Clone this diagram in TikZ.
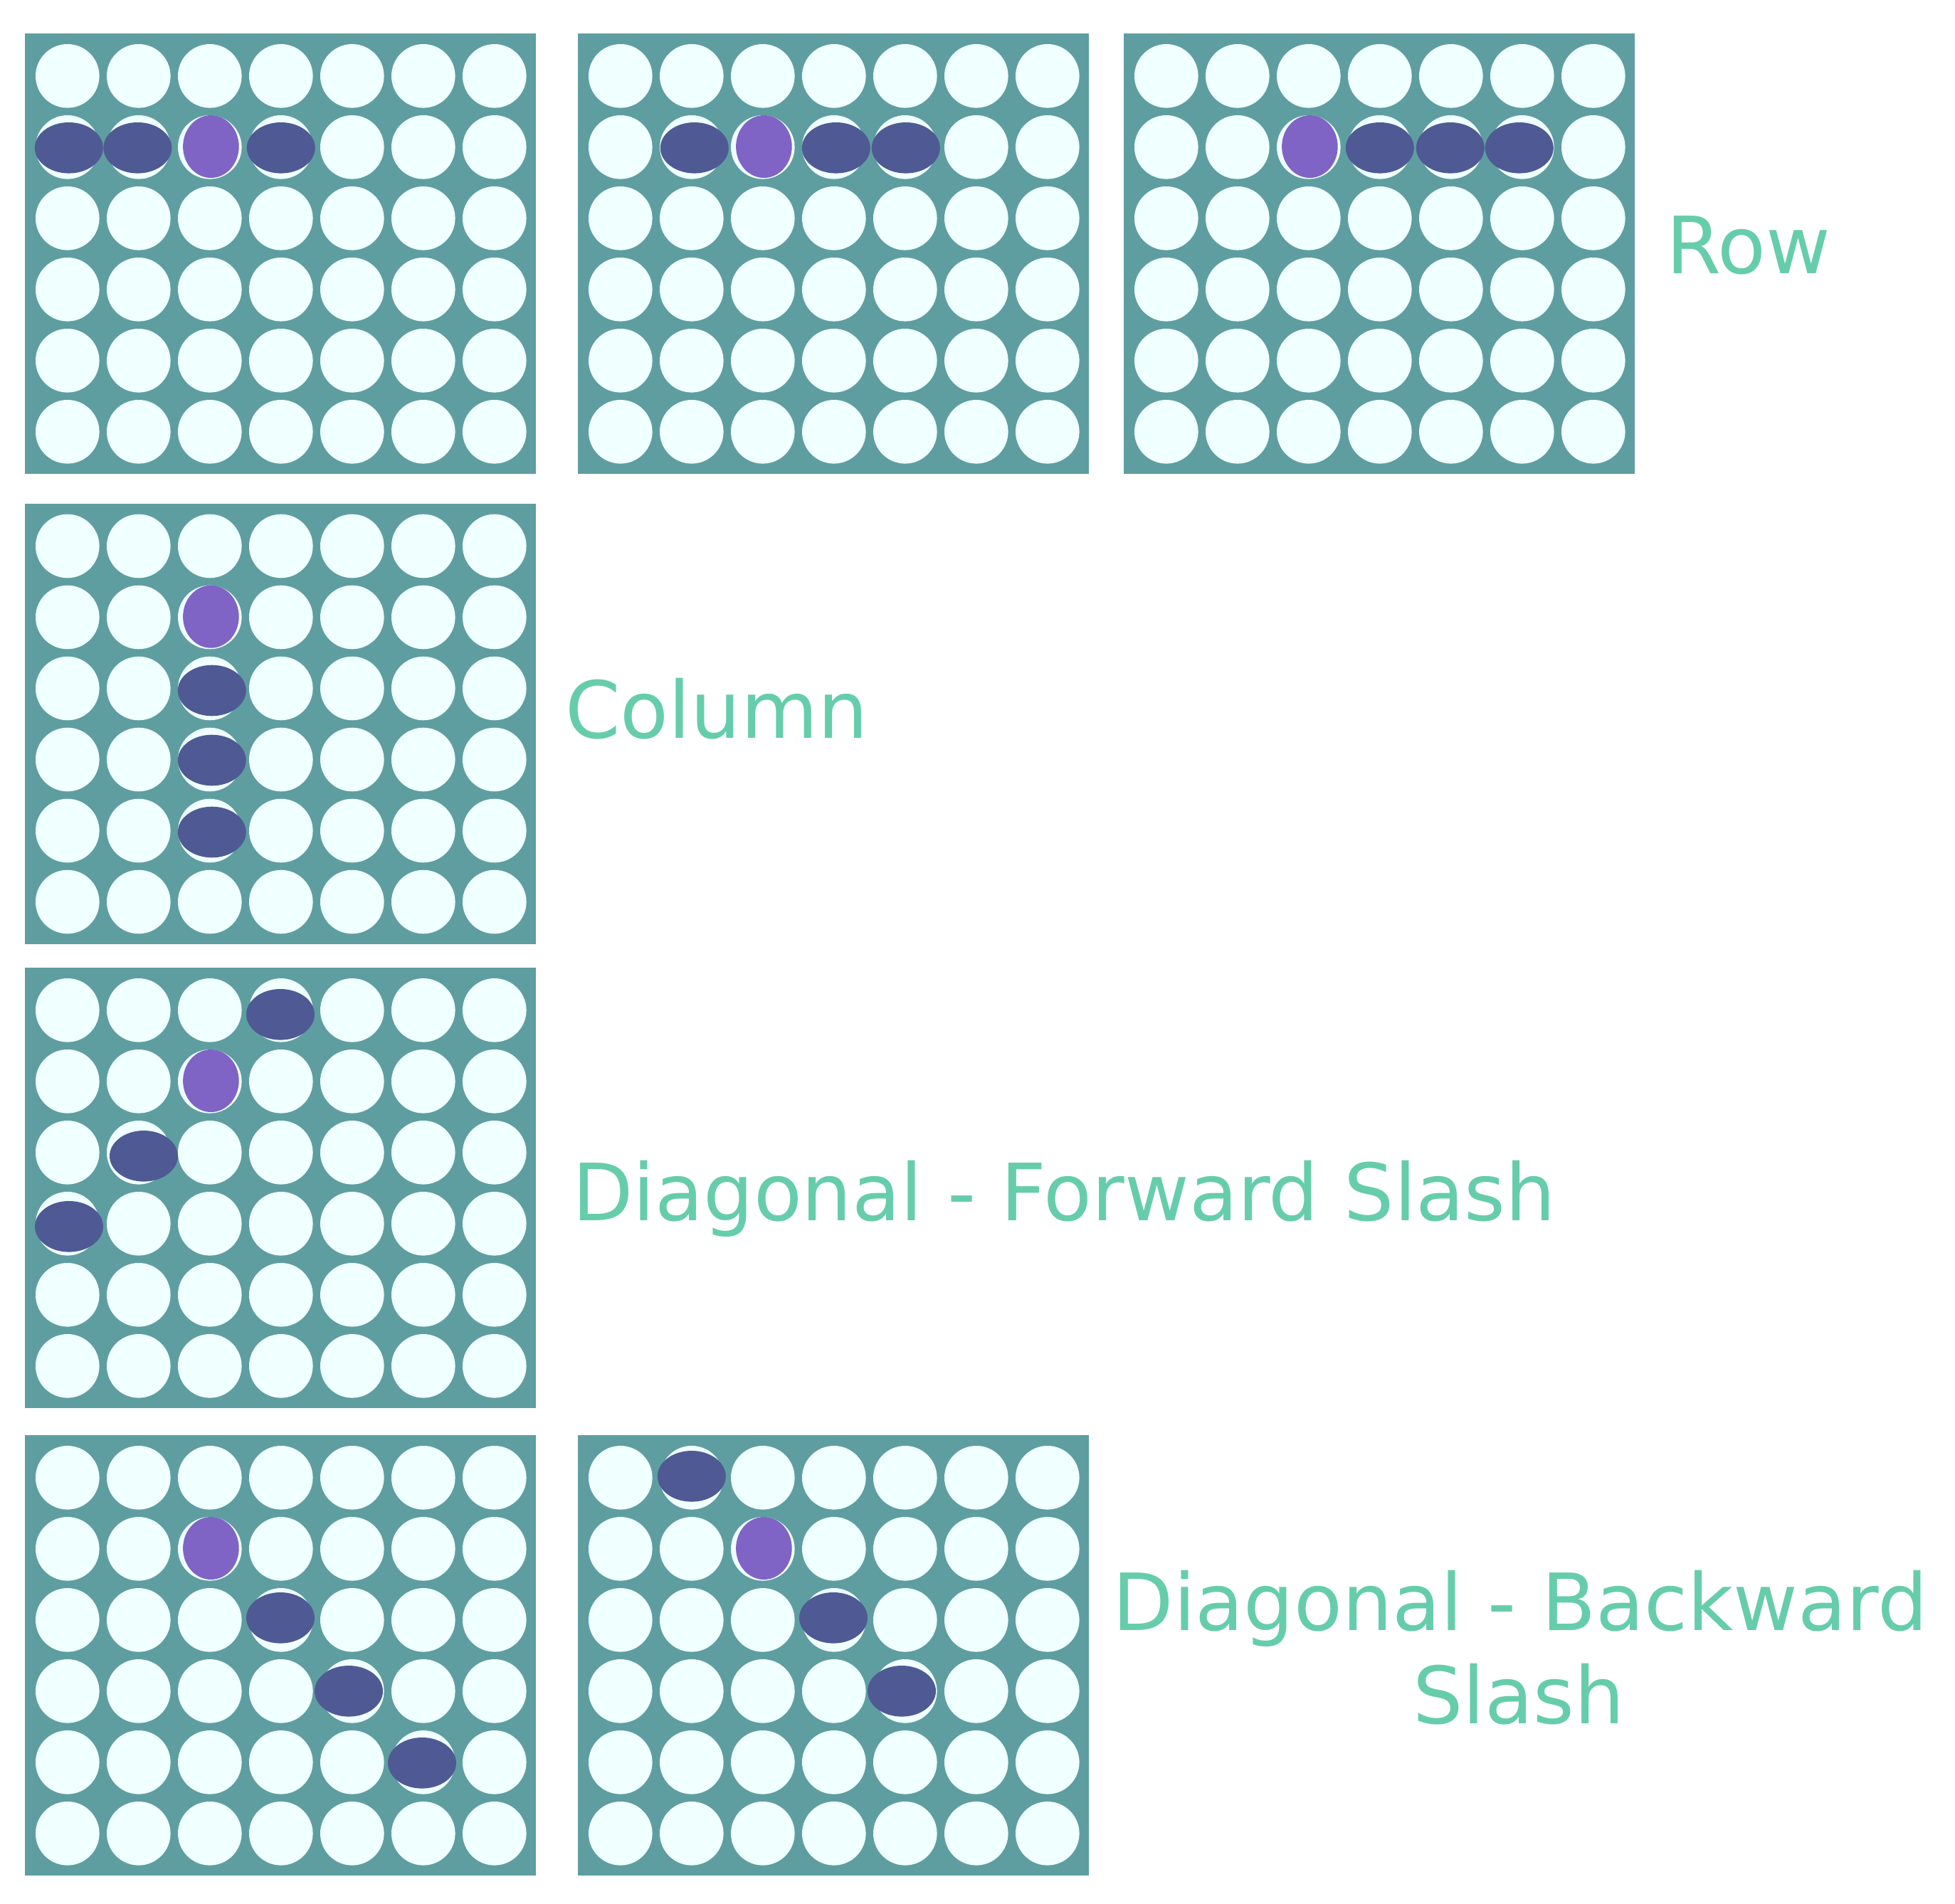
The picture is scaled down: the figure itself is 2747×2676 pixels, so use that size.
\documentclass[tikz,border=0pt]{standalone}
\usepackage{fontspec}
\setmainfont{DejaVu Sans}
\definecolor{boardc}{HTML}{5F9EA0}
\definecolor{holec}{HTML}{F0FFFF}
\definecolor{darkc}{HTML}{4F5A94}
\definecolor{purplec}{HTML}{7F64C5}
\definecolor{labelc}{HTML}{66CDAA}
\tikzset{
  boardbg/.style={fill=boardc},
  hole/.style={fill=holec},
  darkpiece/.style={fill=darkc},
  lastpiece/.style={fill=purplec},
  lbl/.style={text=labelc, font=\fontsize{111}{131}\selectfont, inner sep=0pt, anchor=base}
}
% board with top-left corner at (#1,#2)
\newcommand{\cfboard}[2]{%
  \fill[boardbg] (#1,#2) rectangle ++(718,619);
  \foreach \i in {0,...,6}{\foreach \j in {0,...,5}{
    \fill[hole] ({#1+59.8+100*\i},{#2+59.8+100*\j}) circle[radius=44.8pt];}}%
}
% dark piece: board x, board y, col, row, dx, dy
\newcommand{\cfdark}[6]{%
  \fill[darkpiece] ({#1+59.8+100*#3+#5},{#2+59.8+100*#4+#6}) ellipse[x radius=48pt,y radius=35.8pt];}
% last (purple) piece: board x, board y, col, row
\newcommand{\cflast}[4]{%
  \fill[lastpiece] ({#1+61.4+100*#3},{#2+59+100*#4}) ellipse[x radius=39.3pt,y radius=44pt];}
\begin{document}
\begin{tikzpicture}[x=1pt,y=-1pt]
\useasboundingbox (0,0) rectangle (2747,2676);
\fill[white] (0,0) rectangle (2747,2676);

% Row boards
\cfboard{35}{47}
\cfdark{35}{47}{0}{1}{2}{1}
\cfdark{35}{47}{1}{1}{-1.4}{1}
\cflast{35}{47}{2}{1}
\cfdark{35}{47}{3}{1}{0}{1}

\cfboard{812}{47}
\cfdark{812}{47}{1}{1}{4}{1}
\cflast{812}{47}{2}{1}
\cfdark{812}{47}{3}{1}{3}{1}
\cfdark{812}{47}{4}{1}{1}{1}

\cfboard{1579}{47}
\cflast{1579}{47}{2}{1}
\cfdark{1579}{47}{3}{1}{0}{1}
\cfdark{1579}{47}{4}{1}{-1}{1}
\cfdark{1579}{47}{5}{1}{-4}{1}

% Column board
\cfboard{35}{707.7}
\cflast{35}{707.7}{2}{1}
\cfdark{35}{707.7}{2}{2}{3}{3}
\cfdark{35}{707.7}{2}{3}{3}{1}
\cfdark{35}{707.7}{2}{4}{3}{2}

% Forward slash board
\cfboard{35}{1360}
\cfdark{35}{1360}{3}{0}{-0.8}{6}
\cflast{35}{1360}{2}{1}
\cfdark{35}{1360}{1}{2}{7.2}{5}
\cfdark{35}{1360}{0}{3}{2.2}{4}

% Backward slash boards
\cfboard{35}{2017}
\cflast{35}{2017}{2}{1}
\cfdark{35}{2017}{3}{2}{-0.8}{-3}
\cfdark{35}{2017}{4}{3}{-4.8}{0}
\cfdark{35}{2017}{5}{4}{-1.8}{1}

\cfboard{812}{2017}
\cfdark{812}{2017}{1}{0}{0}{-2}
\cflast{812}{2017}{2}{1}
\cfdark{812}{2017}{3}{2}{-0.8}{-3}
\cfdark{812}{2017}{4}{3}{-4.8}{0}

% Labels
\node[lbl] (row) at (2457,384) {Row};
\node[lbl] (column) at (1007,1037) {Column};
\node[lbl] (fwd) at (1495,1715) {Diagonal - Forward Slash};
\node[lbl] (bwd1) at (2136,2291) {Diagonal - Backward};
\node[lbl] (bwd2) at (2134,2422) {Slash};
\end{tikzpicture}
\end{document}
